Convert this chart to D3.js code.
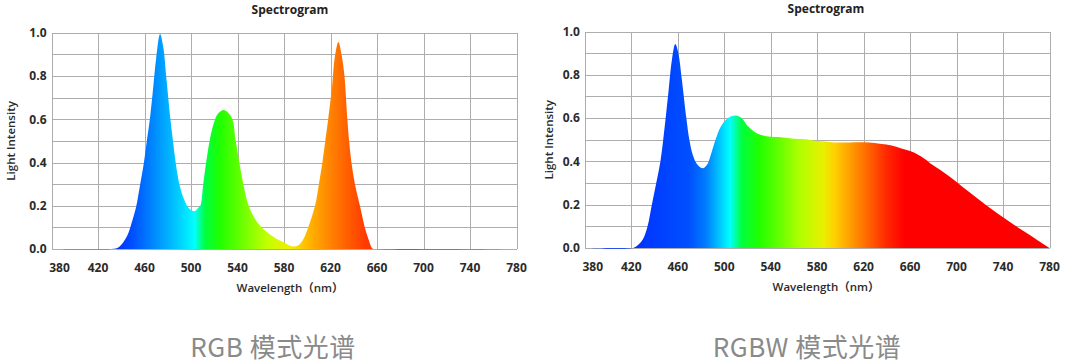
<!DOCTYPE html>
<html lang="zh">
<head>
<meta charset="UTF-8">
<title>Spectrogram</title>
<script src="https://d3js.org/d3.v7.min.js"></script>
<style>
    body { margin: 0; background: #fff; }
    svg { display: block; }
    .grid line { stroke: #adadad; stroke-width: 1; shape-rendering: crispEdges; }
    .tick-label { font-family: "Open Sans", "Noto Sans", sans-serif; font-weight: 700; font-size: 12px; fill: #2b2b2b; }
    .axis-title { font-family: "Open Sans", "Noto Sans CJK SC", sans-serif; font-weight: 600; font-size: 11.5px; fill: #2b2b2b; }
    .chart-title { font-family: "Open Sans", sans-serif; font-weight: 700; font-size: 12px; fill: #222; }
    .caption { font-family: "Noto Sans CJK SC", sans-serif; font-size: 26px; fill: #8a8a8a; letter-spacing: 0.5px; }
</style>
</head>
<body>
<svg id="chart" width="1080" height="364"></svg>
<script>
    // wavelength (nm) and relative intensity
    const xTicks = [380, 420, 460, 500, 540, 580, 620, 660, 700, 740, 780];
    const yTicks = [0, 0.2, 0.4, 0.6, 0.8, 1.0];
    const yGrid = [0, 0.1, 0.2, 0.3, 0.4, 0.5, 0.6, 0.7, 0.8, 0.9, 1.0];

    const rgbWave = [380, 432, 436, 440, 445, 450, 453, 456, 459.5, 462, 464.6, 467, 470, 473.4, 476, 479, 482.3, 484.5, 486.8, 490, 494, 498, 503, 506, 508, 510.5, 513, 516, 519.5, 523, 528.2, 532, 535.6, 538.5, 541.6, 545, 549.6, 555, 560.8, 566, 572.7, 580, 585, 589, 593, 597, 600.8, 606.7, 610, 613, 615.5, 618, 621.5, 623.5, 626.8, 629.5, 632, 634.5, 636, 638, 641, 645.3, 650, 653, 655.6, 658, 780];
    const rgbValue = [0, 0, 0.003, 0.02, 0.06, 0.14, 0.2, 0.29, 0.4, 0.5, 0.6, 0.72, 0.88, 0.995, 0.94, 0.78, 0.6, 0.5, 0.4, 0.3, 0.23, 0.19, 0.175, 0.19, 0.2, 0.3, 0.4, 0.5, 0.58, 0.625, 0.643, 0.63, 0.6, 0.5, 0.4, 0.3, 0.2, 0.14, 0.1, 0.075, 0.05, 0.03, 0.016, 0.012, 0.02, 0.05, 0.1, 0.2, 0.3, 0.4, 0.5, 0.6, 0.76, 0.88, 0.958, 0.9, 0.8, 0.6, 0.5, 0.4, 0.3, 0.2, 0.09, 0.04, 0.005, 0, 0];

    const rgbwWave = [380, 421.5, 425, 430, 434, 437.7, 441.5, 445.1, 447.5, 449.6, 452, 455, 457.9, 460.5, 463.5, 467.4, 470, 473, 477, 481.6, 484.5, 486.6, 492.5, 497, 502, 506, 510.3, 515, 520, 528, 538, 548.8, 560, 570, 578.5, 590, 600, 620, 637.7, 645, 652.5, 660, 667.3, 673, 679.2, 690, 700, 710, 720, 730, 740, 750, 760, 770, 780];
    const rgbwValue = [0, 0, 0.01, 0.04, 0.1, 0.2, 0.3, 0.4, 0.5, 0.6, 0.72, 0.87, 0.942, 0.9, 0.78, 0.6, 0.5, 0.43, 0.385, 0.368, 0.38, 0.4, 0.5, 0.56, 0.595, 0.608, 0.612, 0.6, 0.565, 0.53, 0.515, 0.512, 0.505, 0.502, 0.495, 0.49, 0.487, 0.488, 0.479, 0.472, 0.46, 0.448, 0.43, 0.41, 0.384, 0.345, 0.305, 0.262, 0.22, 0.18, 0.142, 0.105, 0.07, 0.035, 0];

    // fill gradient stops (wavelength -> colour)
    const rgbStopWave = [436, 450, 470, 490, 503, 512, 525, 545, 565, 585, 600, 615, 630, 650];
    const rgbStopColor = ["#0033ff", "#0050ff", "#0090ff", "#00d0ff", "#00ffff", "#00ff40", "#20ff00", "#70ff00", "#c0ff00", "#f0f000", "#ffbb00", "#ff9000", "#ff6a00", "#ff3a00"];
    const rgbwStopWave = [420, 470, 485, 495, 505, 515, 530, 550, 565, 585, 595, 608, 625, 640, 655, 780];
    const rgbwStopColor = ["#0030ff", "#0050ff", "#0080ff", "#00c0ff", "#00ffff", "#00ff40", "#20ff00", "#70ff00", "#b0ff00", "#e8f000", "#ffd000", "#ffa000", "#ff6000", "#ff2800", "#ff0000", "#ff0000"];

    const svg = d3.select("#chart");
    const defs = svg.append("defs");

    function drawSpectrum(o) {
        const x = d3.scaleLinear().domain([380, 780]).range(o.xRange);
        const y = d3.scaleLinear().domain([0, 1]).range(o.yRange);
        const g = svg.append("g");

        // gridlines
        const grid = g.append("g").attr("class", "grid");
        grid.selectAll(".v").data(xTicks).enter().append("line")
            .attr("x1", d => Math.round(x(d)) + 0.5).attr("x2", d => Math.round(x(d)) + 0.5)
            .attr("y1", y(1)).attr("y2", y(0));
        grid.selectAll(".h").data(yGrid).enter().append("line")
            .attr("x1", x(380)).attr("x2", x(780))
            .attr("y1", d => Math.round(y(d)) + 0.5).attr("y2", d => Math.round(y(d)) + 0.5);

        // gradient across the wavelength axis
        const grad = defs.append("linearGradient")
            .attr("id", o.id)
            .attr("gradientUnits", "userSpaceOnUse")
            .attr("x1", x(380)).attr("x2", x(780))
            .attr("y1", 0).attr("y2", 0);
        grad.selectAll("stop").data(o.stopWave).enter().append("stop")
            .attr("offset", d => (d - 380) / 400)
            .attr("stop-color", (d, i) => o.stopColor[i]);

        const pts = o.wave.map((w, i) => [w, o.value[i]]);
        const area = d3.area()
            .x(d => x(d[0]))
            .y0(y(0))
            .y1(d => Math.min(y(0), y(d[1])))
            .curve(d3.curveCatmullRom.alpha(0.5));
        g.append("path").datum(pts)
            .attr("d", area)
            .attr("fill", `url(#${o.id})`);

        // tick labels
        g.selectAll(".xt").data(xTicks).enter().append("text")
            .attr("class", "tick-label")
            .attr("x", (d, i) => x(d) + (i === 0 ? 8 : 0))
            .attr("y", o.xLabelY)
            .attr("text-anchor", "middle")
            .text(d => d);
        g.selectAll(".yt").data(yTicks).enter().append("text")
            .attr("class", "tick-label")
            .attr("x", x(380) - 5)
            .attr("y", d => y(d))
            .attr("dy", "0.36em")
            .attr("text-anchor", "end")
            .text(d => d.toFixed(1));

        // titles
        g.append("text").attr("class", "chart-title")
            .attr("x", o.titleX).attr("y", o.titleY)
            .attr("text-anchor", "middle").text("Spectrogram");
        g.append("text").attr("class", "axis-title")
            .attr("x", o.titleX).attr("y", o.xTitleY)
            .attr("text-anchor", "middle").text("Wavelength（nm）");
        g.append("text").attr("class", "axis-title")
            .attr("transform", `translate(${o.yTitleX},${(y(0) + y(1)) / 2}) rotate(-90)`)
            .attr("dy", "0.36em")
            .attr("text-anchor", "middle").text("Light Intensity");

        g.append("text").attr("class", "caption")
            .attr("x", o.captionX).attr("y", 357)
            .attr("text-anchor", "middle").text(o.caption);
    }

    drawSpectrum({
        id: "gradRGB", wave: rgbWave, value: rgbValue,
        stopWave: rgbStopWave, stopColor: rgbStopColor,
        xRange: [51.5, 516.5], yRange: [249, 32.8],
        titleX: 290, titleY: 13.5, xLabelY: 272, xTitleY: 292, yTitleX: 11,
        caption: "RGB 模式光谱", captionX: 273
    });

    drawSpectrum({
        id: "gradRGBW", wave: rgbwWave, value: rgbwValue,
        stopWave: rgbwStopWave, stopColor: rgbwStopColor,
        xRange: [584.8, 1049.5], yRange: [248, 31.5],
        titleX: 826, titleY: 13, xLabelY: 271, xTitleY: 291, yTitleX: 549,
        caption: "RGBW 模式光谱", captionX: 807
    });
</script>
</body>
</html>
